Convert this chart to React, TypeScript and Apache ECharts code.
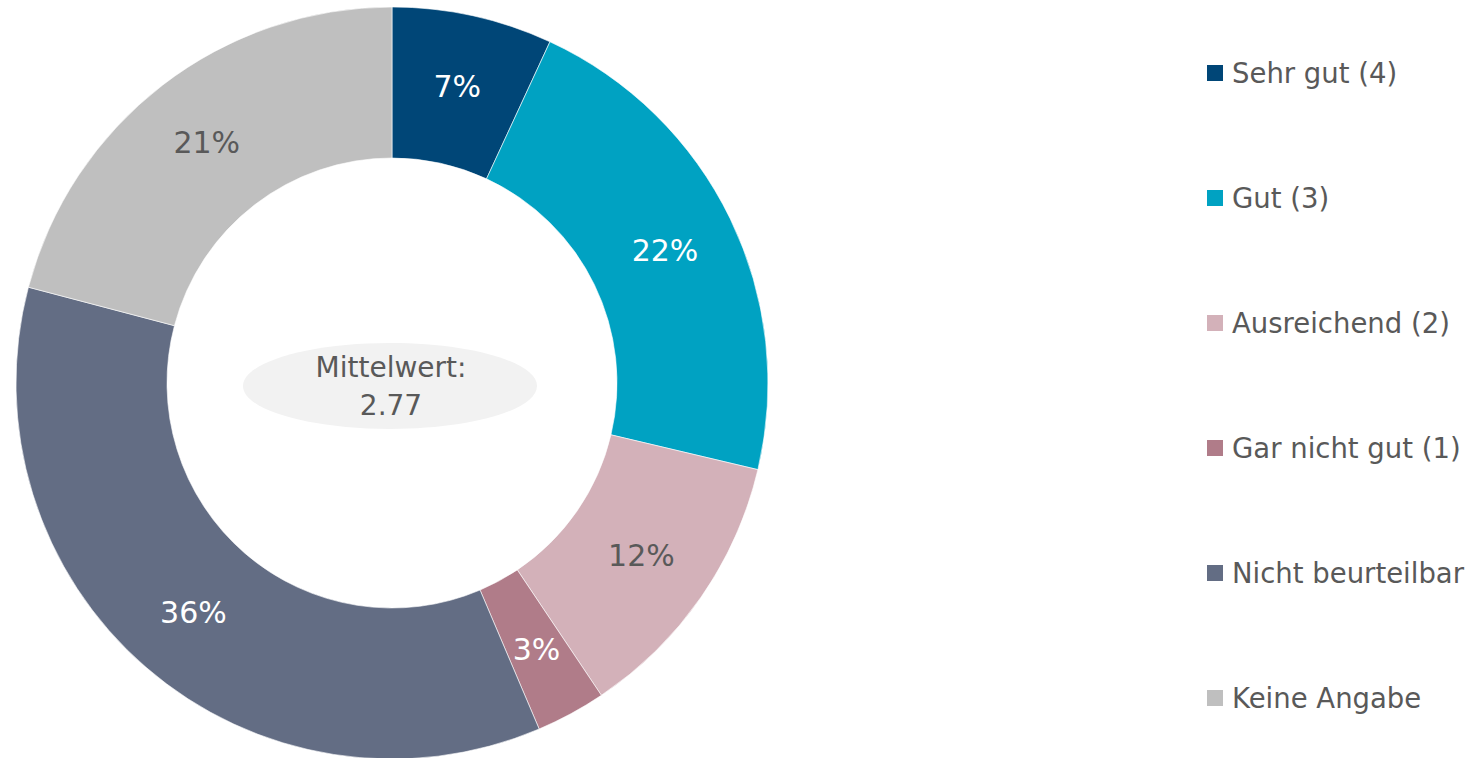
import React, { useEffect, useRef } from "react";
import * as echarts from "echarts";

const categories = [
  "Sehr gut (4)",
  "Gut (3)",
  "Ausreichend (2)",
  "Gar nicht gut (1)",
  "Nicht beurteilbar",
  "Keine Angabe",
];
const values = [6.9, 21.8, 11.9, 3.0, 35.5, 20.9];
const colors = ["#004677", "#00A2C2", "#D3B1B9", "#B07C89", "#636D84", "#BFBFBF"];
const labelColors = ["#FFFFFF", "#FFFFFF", "#595959", "#FFFFFF", "#FFFFFF", "#595959"];
const meanLabel = "Mittelwert:";
const meanValue = "2.77";

const FONT = "DejaVu Sans";

export default function App() {
  const ref = useRef<HTMLDivElement>(null);
  useEffect(() => {
    if (!ref.current) return;
    const chart = echarts.init(ref.current, null, { renderer: "svg" });
    chart.setOption({
      animation: false,
      backgroundColor: "#FFFFFF",
      legend: {
        orient: "vertical",
        left: 1205,
        top: 56,
        padding: 0,
        icon: "rect",
        itemWidth: 18,
        itemHeight: 18,
        itemGap: 91,
        data: categories,
        textStyle: {
          color: "#595959",
          fontSize: 27.5,
          fontFamily: FONT,
          lineHeight: 34,
          padding: [0, 0, 0, 3],
        },
      },
      graphic: [
        {
          type: "ellipse",
          z: 10,
          shape: { cx: 390, cy: 386, rx: 147, ry: 43 },
          style: { fill: "#F2F2F2" },
        },
        {
          type: "text",
          z: 11,
          x: 391,
          y: 386,
          style: {
            text: meanLabel + "\n" + meanValue,
            fill: "#595959",
            fontSize: 28,
            fontFamily: FONT,
            lineHeight: 38,
            align: "center",
            verticalAlign: "middle",
          },
        },
      ],
      series: [
        {
          type: "pie",
          center: [392, 383],
          radius: [225, 376],
          startAngle: 90,
          clockwise: true,
          avoidLabelOverlap: false,
          itemStyle: { borderColor: "#FFFFFF", borderWidth: 0.6 },
          label: {
            show: true,
            position: "inside",
            fontSize: 30,
            fontFamily: FONT,
            formatter: (p: any) => Math.round(p.value) + "%",
          },
          labelLine: { show: false },
          emphasis: { disabled: true },
          data: categories.map((name, i) => ({
            name,
            value: values[i],
            itemStyle: { color: colors[i] },
            label: { color: labelColors[i] },
          })),
        },
      ],
    });
    return () => chart.dispose();
  }, []);
  return (
    <div
      ref={ref}
      style={{ position: "fixed", left: 0, top: 0, width: 1473, height: 758 }}
    />
  );
}
